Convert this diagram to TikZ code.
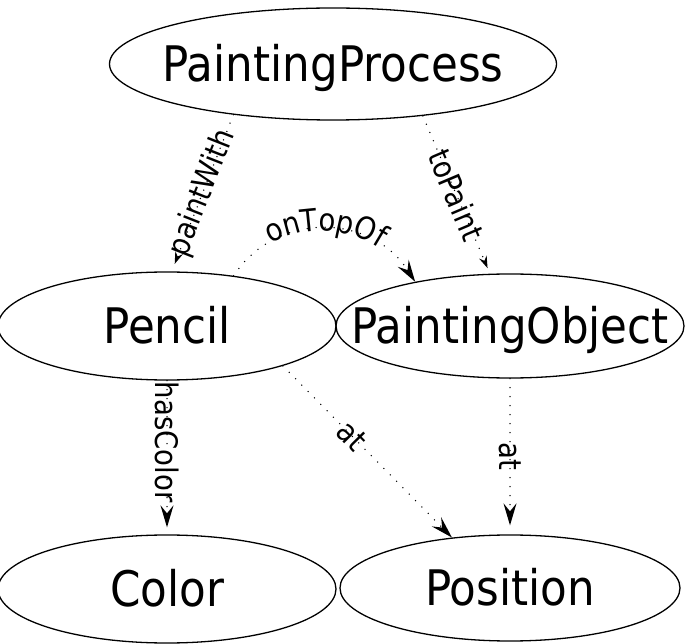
\documentclass[tikz,border=0pt]{standalone}
\usepackage{fontspec}
\setmainfont{DejaVu Sans}[FakeStretch=0.89]
\usetikzlibrary{shapes.geometric,arrows.meta,decorations.text}
\begin{document}
\begin{tikzpicture}[x=1pt,y=-1pt,
  cls/.style={ellipse, draw, line width=1.3pt, inner sep=0pt},
  every label/.style={font=\fontsize{49}{49}\selectfont, text height=35pt,
    text depth=0pt, inner sep=0pt},
  rel/.style={line width=1.5pt, dash pattern=on 0pt off 9pt, line cap=round},
  bigtip/.style={-{Stealth[length=22pt,width=13pt,inset=8pt]}},
  smalltip/.style={-{Stealth[length=12pt,width=8pt,inset=4pt]}},
  lbl/.style={font=\fontsize{31}{31}\selectfont, sloped, inner sep=0pt}]
\useasboundingbox (0,0) rectangle (686,644);
\node[cls, minimum width=447pt, minimum height=112pt, label={center:PaintingProcess}] (pp) at (333,64) {};
\node[cls, minimum width=338pt, minimum height=108pt, label={center:Pencil}] (pen) at (167,326) {};
\node[cls, minimum width=348pt, minimum height=104pt, label={center:PaintingObject}] (po) at (510,326) {};
\node[cls, minimum width=338pt, minimum height=108pt, label={center:Color}] (col) at (167,589) {};
\node[cls, minimum width=340pt, minimum height=106pt, label={center:Position}] (posn) at (510,588) {};

\draw[rel, smalltip, shorten >=8pt] (pp.207) -- (pen.85) node[lbl, pos=.5] {paintWith};
\draw[rel, smalltip, shorten >=6pt] (pp.330) -- (po.111) node[lbl, pos=.5] {toPaint};
\draw[rel, bigtip, shorten >=7pt] (pen.south) -- (col.north) node[lbl, pos=.4] {hasColor};
\draw[rel, bigtip] (pen.-19) -- (posn.139) node[lbl, pos=.41] {at};
\draw[rel, bigtip, shorten >=9pt] (po.south) -- (posn.north) node[lbl, pos=.5] {at};

\draw[rel, bigtip] (pen.37) .. controls (275,212) and (370,212) .. (po.155);
\path[decorate, decoration={text along path, raise=-2pt,
    text={|\fontsize{31}{31}\selectfont|onTopOf},
    text align={align=fit to path, left indent=30pt, right indent=30pt}}]
  (pen.37) .. controls (275,212) and (370,212) .. (po.155);
\end{tikzpicture}
\end{document}
